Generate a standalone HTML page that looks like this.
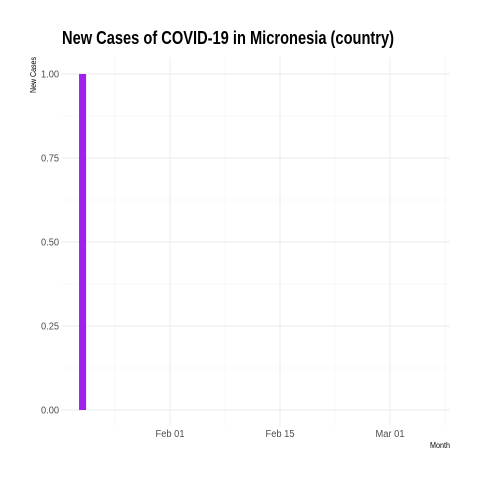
<!DOCTYPE html>
<html><head><meta charset="utf-8"><style>
body{margin:0;background:#fff;}
svg text{font-family:"Liberation Sans Narrow","Liberation Sans",sans-serif;}
</style></head><body>
<svg width="480" height="480" xmlns="http://www.w3.org/2000/svg">
<rect width="480" height="480" fill="#fff"/>
<text x="62" y="44" font-size="18" font-weight="bold" fill="#000" textLength="332" lengthAdjust="spacingAndGlyphs">New Cases of COVID-19 in Micronesia (country)</text>
<g id="grid"></g>
<g id="bars"></g>
<g id="axes"></g>
<text x="36" y="57" font-size="8" fill="#000" transform="rotate(-90 36 57)" text-anchor="end" textLength="36" lengthAdjust="spacingAndGlyphs">New Cases</text>
<text x="450" y="448" font-size="8" fill="#000" text-anchor="end" textLength="20" lengthAdjust="spacingAndGlyphs">Month</text>
</svg>
<script>
const dates = [-11];          // days relative to Feb 01 (Jan 21)
const cases = [1];
const yTicks = [0, 0.25, 0.5, 0.75, 1];
const yTickLabels = ["0.00","0.25","0.50","0.75","1.00"];
const xTicks = [0, 14, 28];
const xTickLabels = ["Feb 01","Feb 15","Mar 01"];
const xMinor = [-7, 7, 21, 35];

const L=61,R=450,T=57,B=426;
const x=d=>170+d*110/14;
const y=v=>410-v*336;
const NS="http://www.w3.org/2000/svg";
function mk(tag,attrs,parent){const e=document.createElementNS(NS,tag);for(const k in attrs)e.setAttribute(k,attrs[k]);document.getElementById(parent).appendChild(e);return e;}
for(let i=0;i<yTicks.length;i++){
  const l=mk('line',{x1:L,x2:R,y1:y(yTicks[i]),y2:y(yTicks[i]),stroke:'#ebebeb','stroke-width':1},'grid');
  
  
  if(i<yTicks.length-1){
    const m=(yTicks[i]+yTicks[i+1])/2;
    const ml=mk('line',{x1:L,x2:R,y1:y(m),y2:y(m),stroke:'#f2f2f2','stroke-width':0.6},'grid');
    
    
  }
  const t=mk('text',{x:L-2,y:y(yTicks[i])+3.5,'font-size':10,fill:'#4d4d4d','text-anchor':'end',textLength:18,lengthAdjust:'spacingAndGlyphs'},'axes');
  t.textContent=yTickLabels[i];
  
  
}
for(const d of xMinor){
  const l=mk('line',{x1:x(d),x2:x(d),y1:T,y2:B,stroke:'#f2f2f2','stroke-width':0.6},'grid');
  
  
}
for(let i=0;i<xTicks.length;i++){
  const l=mk('line',{x1:x(xTicks[i]),x2:x(xTicks[i]),y1:T,y2:B,stroke:'#ebebeb','stroke-width':1},'grid');
  
  
  const t=mk('text',{x:x(xTicks[i]),y:437,'font-size':10,fill:'#4d4d4d','text-anchor':'middle',textLength:29,lengthAdjust:'spacingAndGlyphs'},'axes');
  t.textContent=xTickLabels[i];
  
  
}
for(let i=0;i<dates.length;i++){
  const w=0.9*110/14;
  const b=mk('rect',{x:x(dates[i])-w/2-1,y:y(cases[i]),width:w,height:y(0)-y(cases[i]),fill:'#a020f0'},'bars');
  
  
}
</script>
</body></html>
